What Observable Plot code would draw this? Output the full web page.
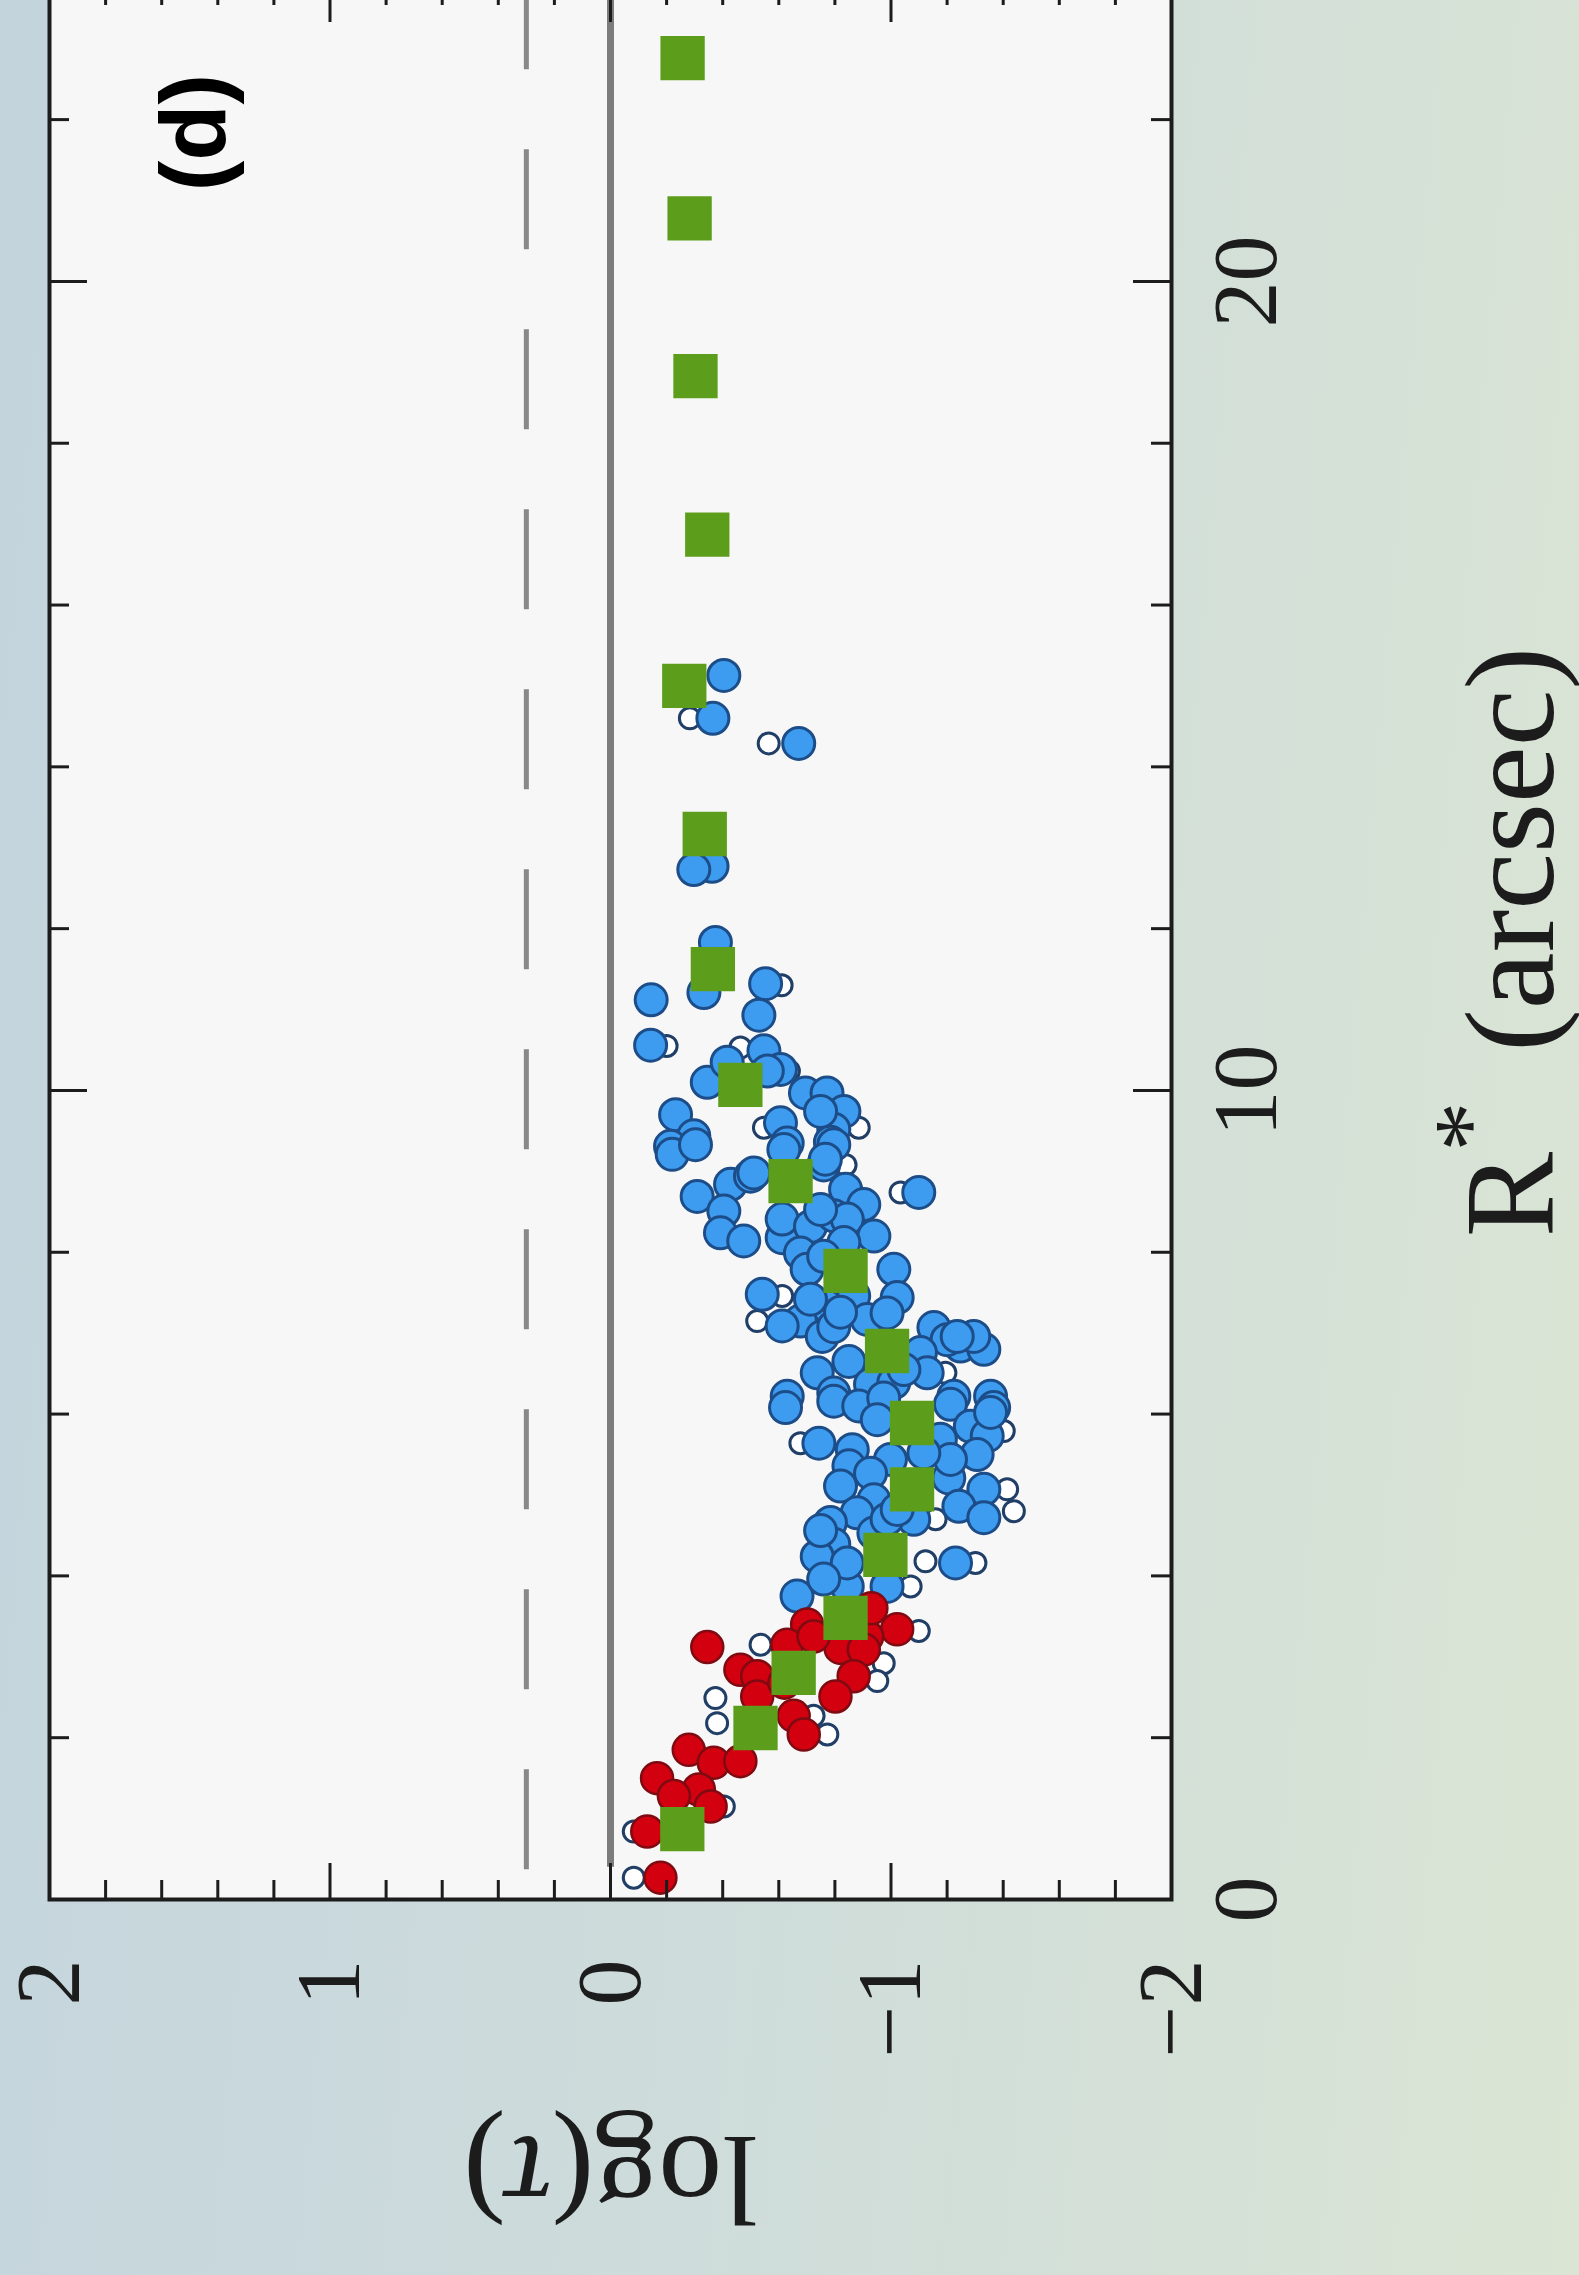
<!DOCTYPE html>
<html>
<head>
<meta charset="utf-8">
<script src="https://cdn.jsdelivr.net/npm/d3@7"></script>
<script src="https://cdn.jsdelivr.net/npm/@observablehq/plot@0.6"></script>
<style>
  html, body { margin: 0; padding: 0; width: 1579px; height: 2275px; overflow: hidden; }
  body { position: relative; background: linear-gradient(95deg, #c3d4dd 0%, #cddbdb 45%, #dae5d4 100%); }
  #chart { position: absolute; left: 0; top: 0; width: 2305px; height: 1581px;
           transform-origin: 0 0; transform: translate(0px, 2280px) rotate(-90deg); }
  #chart svg { max-width: none !important; overflow: visible; }
</style>
</head>
<body>
<div id="chart"></div>
<script>
// ---------- data: [R* (arcsec), log(tau)] ----------
const binnedMeans = [
  [22.76, -0.257], [20.78, -0.282], [18.83, -0.303], [16.87, -0.345], [15.0, -0.263],
  [13.17, -0.336], [11.5, -0.365], [10.07, -0.463], [8.88, -0.642], [7.77, -0.838],
  [6.78, -0.986], [5.89, -1.075], [5.07, -1.075], [4.26, -0.98], [3.48, -0.838],
  [2.80, -0.653], [2.12, -0.517], [0.87, -0.256]
];

const outerPoints = [
  [15.13, -0.404], [14.6, -0.365], [14.29, -0.671], [12.77, -0.362], [12.73, -0.297],
  [11.83, -0.374], [11.21, -0.333], [11.12, -0.145], [11.32, -0.553], [10.93, -0.529],
  [10.56, -0.143], [10.49, -0.547], [10.26, -0.606], [10.1, -0.345], [10.35, -0.416],
  [10.24, -0.559], [9.97, -0.695], [9.97, -0.772], [9.74, -0.832], [9.52, -0.796],
  [9.74, -0.749], [9.70, -0.232], [9.44, -0.297], [9.6, -0.606], [9.35, -0.63],
  [9.31, -0.214], [9.36, -0.784], [9.21, -0.22], [9.33, -0.303], [9.27, -0.618],
  [9.33, -0.796], [9.08, -0.76], [8.84, -0.428], [8.94, -0.499], [8.69, -0.309],
  [8.78, -0.838], [8.59, -0.903], [8.74, -1.099], [8.51, -0.404], [8.24, -0.392],
  [8.14, -0.475], [8.18, -0.612], [8.41, -0.612], [8.32, -0.713], [8.45, -0.796],
  [8.41, -0.844], [8.53, -0.749], [8.2, -0.939], [7.99, -0.677], [7.79, -0.701],
  [7.79, -1.01], [7.44, -1.022], [7.48, -0.541], [7.33, -0.773], [7.46, -0.867],
  [7.17, -0.915], [7.15, -0.677], [7.09, -0.612], [6.96, -0.755], [7.07, -1.153],
  [6.84, -1.248], [6.80, -1.331], [6.96, -1.295], [6.92, -1.2], [6.65, -0.85],
  [6.76, -1.105], [6.51, -1.129], [6.51, -0.737], [6.26, -0.796], [6.37, -0.927],
  [6.39, -1.01], [6.22, -0.63], [6.22, -1.224], [6.22, -1.355], [6.08, -0.624],
  [6.16, -0.796], [6.10, -0.885], [6.20, -0.974], [6.12, -1.212], [6.08, -1.366],
  [5.85, -1.283], [5.73, -1.343], [5.5, -1.307], [5.69, -1.176], [5.64, -0.743],
  [5.56, -0.862], [5.36, -0.85], [5.44, -0.998], [5.27, -0.927], [5.11, -0.82],
  [5.21, -1.206], [5.07, -1.331], [4.86, -1.242], [4.72, -1.331], [4.94, -0.939],
  [4.78, -0.879], [4.70, -1.081], [4.66, -0.784], [4.39, -0.796], [4.24, -0.737],
  [4.53, -0.939], [4.16, -1.23], [3.87, -0.844], [3.87, -0.986], [3.75, -0.665],
  [7.42, -0.713], [7.08, -0.796], [4.56, -0.749], [8.12, -0.832], [7.95, -0.76],
  [7.25, -0.986], [6.96, -1.236], [6.55, -1.046], [7.26, -0.82], [5.93, -0.951],
  [5.44, -1.212], [5.52, -1.117], [4.70, -0.986], [4.16, -0.844], [3.96, -0.76],
  [4.82, -1.022], [6.02, -1.355], [9.15, -0.766], [8.98, -0.511]
];

const innerPoints = [
  [3.34, -1.022], [3.40, -0.701], [3.25, -0.915], [3.12, -0.345], [3.15, -0.63],
  [3.11, -0.82], [3.09, -0.903], [2.84, -0.463], [2.76, -0.523], [2.76, -0.867],
  [2.51, -0.802], [2.51, -0.523], [2.27, -0.653], [2.04, -0.689], [1.85, -0.279],
  [1.69, -0.368], [1.71, -0.463], [1.50, -0.166], [1.36, -0.315], [1.28, -0.226],
  [1.15, -0.357], [0.84, -0.131], [0.27, -0.178], [2.68, -0.62], [3.6, -0.93],
  [3.25, -0.724]
];

const openPoints = [
  [14.6, -0.283], [14.29, -0.564], [11.3, -0.61], [10.55, -0.2], [10.53, -0.463],
  [10.24, -0.636], [9.54, -0.885], [9.54, -0.547], [9.08, -0.838], [8.74, -1.034],
  [7.46, -0.612], [7.15, -0.523], [6.51, -1.194], [5.79, -1.402], [5.64, -0.677],
  [5.07, -1.414], [4.80, -1.438], [4.70, -1.159], [4.16, -1.301], [4.18, -1.123],
  [3.87, -1.07], [3.32, -1.099], [3.15, -0.535], [2.92, -0.974], [2.70, -0.951],
  [2.49, -0.374], [2.27, -0.724], [2.04, -0.773], [2.18, -0.38], [1.15, -0.404],
  [0.84, -0.083], [0.27, -0.083]
];

const refLines = [
  {logTau: 0.0, from: 0.41, to: 23.67, kind: "solid"},
  {logTau: 0.3, from: 0.38, to: 23.67, kind: "dashed"}
];

const panelLabel = [{R: 21.84, logTau: 1.48, label: "(d)"}];

const rDomain = [0, 23.67];
const tauDomain = [-2, 2];
const rMajor = [0, 10, 20];
const rMinor = [2, 4, 6, 8, 12, 14, 16, 18, 22];
const tauMajor = [-2, -1, 0, 1, 2];
const tauMinor = [-1.8, -1.6, -1.4, -1.2, -0.8, -0.6, -0.4, -0.2, 0.2, 0.4, 0.6, 0.8, 1.2, 1.4, 1.6, 1.8];
const xLabel = "R* (arcsec)";
const yLabel = "log(τ)";

// ---------- layout ----------
const W = 2305, H = 1581, mL = 380, mR = 10, mT = 49, mB = 410;
const plotW = W - mL - mR, plotH = H - mT - mB;
const ink = "#1c1c1c";
const serif = "Liberation Serif, Times New Roman, serif";
const fmt = d => d < 0 ? "\u2212" + Math.abs(d) : String(d);

const chart = Plot.plot({
  width: W, height: H,
  marginLeft: mL, marginRight: mR, marginTop: mT, marginBottom: mB,
  style: "background: transparent; max-width: none; overflow: visible;",
  x: {domain: rDomain, axis: null},
  y: {domain: tauDomain, axis: null},
  marks: [
    Plot.frame({fill: "#f7f7f7", stroke: "none"}),
    Plot.ruleY(refLines.filter(d => d.kind === "solid"), {y: "logTau", x1: "from", x2: "to", stroke: "#7c7c7c", strokeWidth: 7}),
    Plot.ruleY(refLines.filter(d => d.kind === "dashed"), {y: "logTau", x1: "from", x2: "to", stroke: "#888888", strokeWidth: 5, strokeDasharray: "100,80"}),
    Plot.dot(openPoints, {x: d => d[0], y: d => d[1], r: 10.5, fill: "white", stroke: "#203e66", strokeWidth: 3}),
    Plot.dot(outerPoints, {x: d => d[0], y: d => d[1], r: 16, fill: "#3d9cf0", stroke: "#1c4d88", strokeWidth: 3}),
    Plot.dot(innerPoints, {x: d => d[0], y: d => d[1], r: 16, fill: "#d3000f", stroke: "#7e0a12", strokeWidth: 2.5}),
    Plot.dot(binnedMeans, {x: d => d[0], y: d => d[1], symbol: "square", r: 25, fill: "#5c9e1c", stroke: "none"}),
    Plot.frame({stroke: ink, strokeWidth: 4}),
    // inward ticks
    Plot.tickX(rMajor, {x: d => d, insetTop: plotH - 38, stroke: ink, strokeWidth: 3}),
    Plot.tickX(rMinor, {x: d => d, insetTop: plotH - 20, stroke: ink, strokeWidth: 3}),
    Plot.tickX(rMajor, {x: d => d, insetBottom: plotH - 38, stroke: ink, strokeWidth: 3}),
    Plot.tickX(rMinor, {x: d => d, insetBottom: plotH - 20, stroke: ink, strokeWidth: 3}),
    Plot.tickY(tauMajor, {y: d => d, insetRight: plotW - 37, stroke: ink, strokeWidth: 3}),
    Plot.tickY(tauMinor, {y: d => d, insetRight: plotW - 20, stroke: ink, strokeWidth: 3}),
    Plot.tickY(tauMajor, {y: d => d, insetLeft: plotW - 37, stroke: ink, strokeWidth: 3}),
    Plot.tickY(tauMinor, {y: d => d, insetLeft: plotW - 20, stroke: ink, strokeWidth: 3}),
    // tick labels
    Plot.axisX({ticks: rMajor, anchor: "bottom", tickSize: 0, tickPadding: 39, tickFormat: fmt, label: null,
                fontSize: 92, fontFamily: serif, fill: ink}),
    Plot.axisY({ticks: tauMajor, anchor: "left", tickSize: 0, tickPadding: 60, tickFormat: fmt, label: null,
                fontSize: 92, fontFamily: serif, fill: ink}),
    // axis titles
    Plot.text([xLabel], {text: d => d, frameAnchor: "bottom", dy: 381, lineAnchor: "bottom", textAnchor: "middle",
                         fontSize: 128, fontFamily: serif, fill: ink}),
    Plot.text([yLabel], {text: d => d, frameAnchor: "left", dx: -237, rotate: -90, lineAnchor: "bottom", textAnchor: "middle",
                         fontSize: 128, fontFamily: serif, fill: ink}),
    // panel label
    Plot.text(panelLabel, {x: "R", y: "logTau", text: "label", fontSize: 92, fontWeight: "bold",
                           fontFamily: "Liberation Sans, Arial, sans-serif", fill: "#000"})
  ]
});

// superscript star and italic tau
d3.select(chart).selectAll("text").filter(function () { return this.textContent === xLabel; }).each(function () {
  const t = d3.select(this);
  t.text(null);
  t.append("tspan").text("R");
  t.append("tspan").attr("font-size", 100).attr("dy", -51).text("*");
  t.append("tspan").attr("dy", 51).attr("dx", 18).text(" (arcsec)");
});
d3.select(chart).selectAll("text").filter(function () { return this.textContent === yLabel; }).each(function () {
  const t = d3.select(this);
  t.text(null);
  t.append("tspan").text("log(");
  t.append("tspan").attr("font-style", "italic").text("τ");
  t.append("tspan").text(")");
});

document.getElementById("chart").appendChild(chart);
</script>
</body>
</html>
